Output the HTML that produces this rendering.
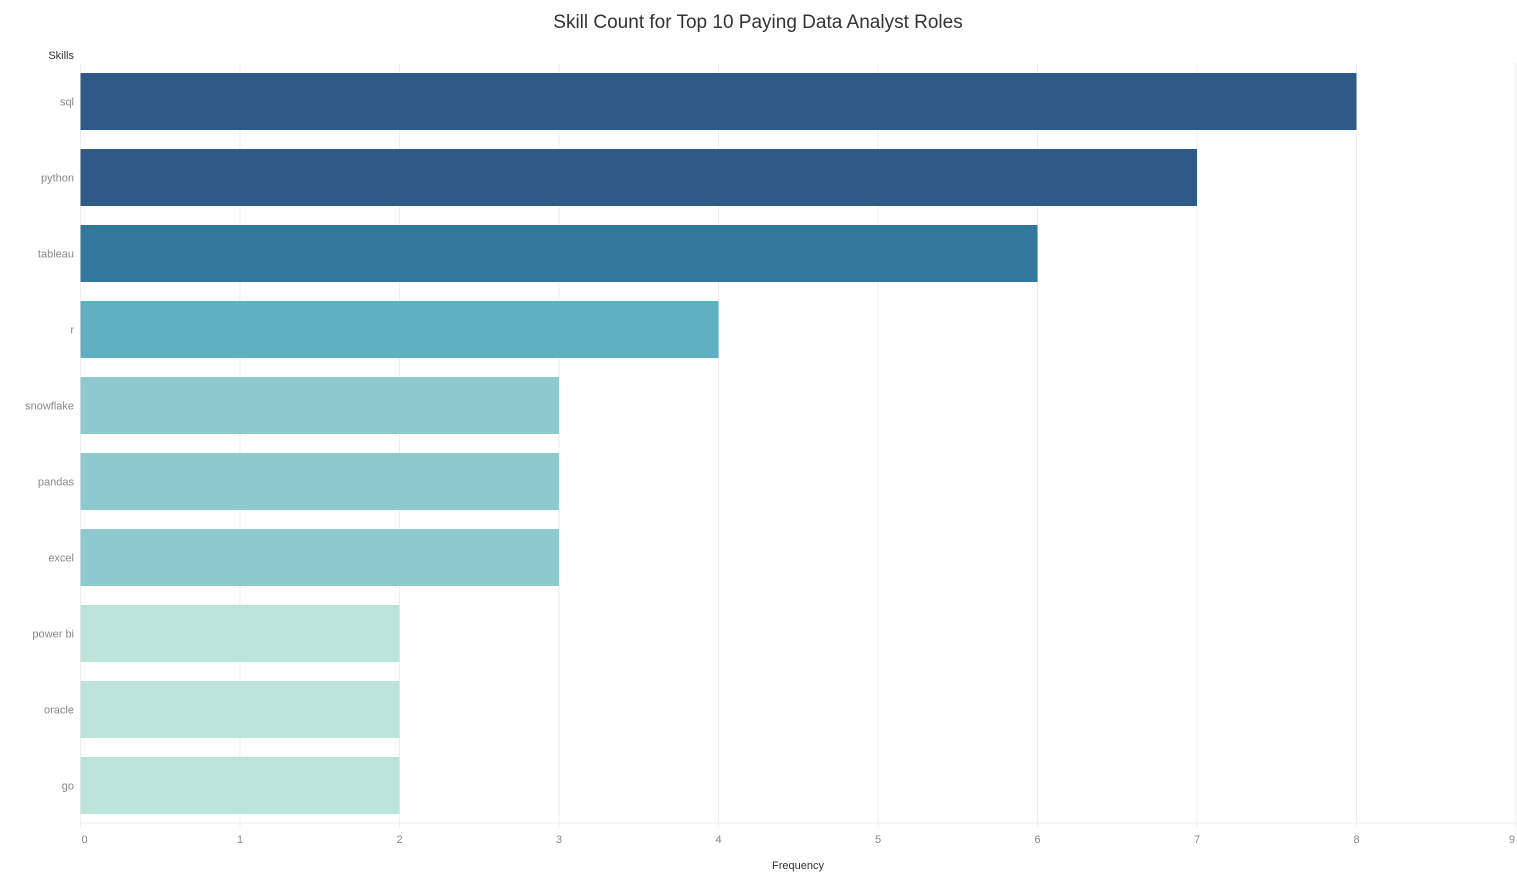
<!DOCTYPE html>
<html><head><meta charset="utf-8"><style>
body{margin:0;background:#fff;font-family:"Liberation Sans",sans-serif;}
svg text{font-family:"Liberation Sans",sans-serif;}
</style></head><body>
<svg id="chart" width="1517" height="880" xmlns="http://www.w3.org/2000/svg">
<text x="758" y="28" text-anchor="middle" font-size="19" fill="#333">Skill Count for Top 10 Paying Data Analyst Roles</text>
<text x="74" y="59" text-anchor="end" font-size="11" fill="#333">Skills</text>
<text x="798" y="869" text-anchor="middle" font-size="11" fill="#333">Frequency</text>
<g id="grid"></g><g id="bars"></g><g id="xaxis"></g><g id="ylabels"></g>
</svg>
<script>
const categories=["sql","python","tableau","r","snowflake","pandas","excel","power bi","oracle","go"];
const values=[8,7,6,4,3,3,3,2,2,2];
const ticks=[0,1,2,3,4,5,6,7,8,9];
const NS="http://www.w3.org/2000/svg";
const x0=80.5,unit=159.5,top0=73,step=76,bh=57,axisY=823;
const xs=v=>x0+v*unit;
const ys=i=>top0+i*step;
function color(v){if(v>=7)return"#2e5a87";if(v>=6)return"#32779c";if(v>=4)return"#5fb0c3";if(v>=3)return"#8ecacd";return"#bde4d9";}
function mk(tag,attrs,parent){const e=document.createElementNS(NS,tag);for(const k in attrs)e.setAttribute(k,attrs[k]);document.getElementById(parent).appendChild(e);return e;}
ticks.forEach((t,i)=>{
 const g=mk("line",{x1:xs(t),x2:xs(t),y1:63,y2:827,stroke:"#efefef","stroke-width":1},"grid");
 
 
 const last=i===ticks.length-1;
 const tx=mk("text",{x:t===0?xs(t)+1:(last?xs(t)-1:xs(t)),y:843,"text-anchor":t===0?"start":(last?"end":"middle"),"font-size":11,fill:"#888"},"xaxis");
 tx.textContent=t;
 
 
});
const ax=mk("line",{x1:x0,x2:1517,y1:axisY,y2:axisY,stroke:"#ececec","stroke-width":1},"xaxis");


categories.forEach((c,i)=>{
 const r=mk("rect",{x:x0,y:ys(i),width:values[i]*unit,height:bh,fill:color(values[i])},"bars");
 
 
 const l=mk("text",{x:74,y:ys(i)+bh/2+4,"text-anchor":"end","font-size":11,fill:"#888"},"ylabels");
 l.textContent=c;
 
 
});
</script>
</body></html>
